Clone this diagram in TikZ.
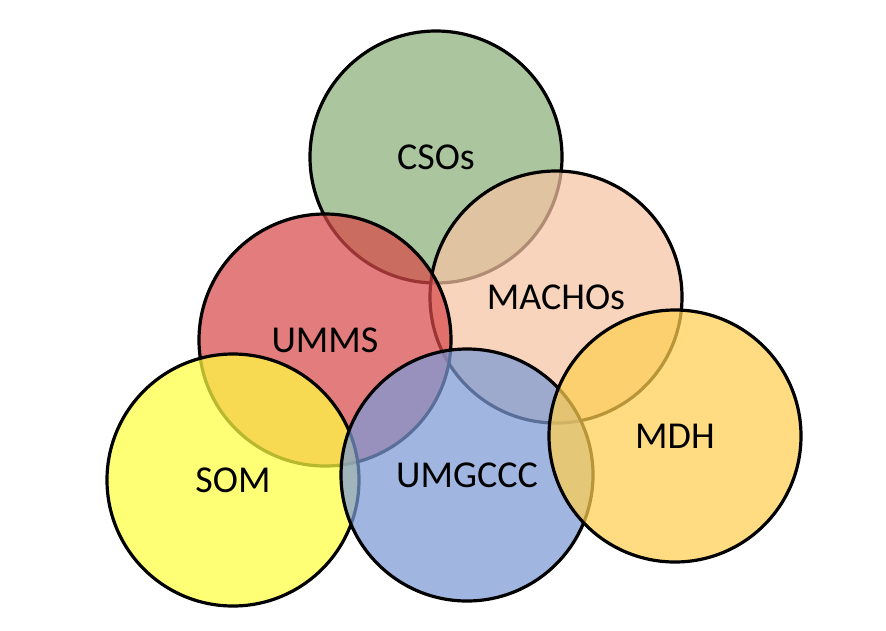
\documentclass[tikz,border=0pt]{standalone}
\usepackage{fontspec}
\setmainfont{Carlito}
\definecolor{csogreen}{HTML}{8AAE78}
\definecolor{machopeach}{HTML}{F5C3A3}
\definecolor{ummsred}{HTML}{D84A4A}
\definecolor{somyellow}{HTML}{FFFF40}
\definecolor{umblue}{HTML}{7C9AD6}
\definecolor{mdhgold}{HTML}{FFCF50}
\begin{document}
\begin{tikzpicture}[x=1pt,y=-1pt,
  org/.style={circle,draw=black,line width=3.2pt,minimum size=252pt,inner sep=0pt,
    fill opacity=0.72,text opacity=1,font=\fontsize{38}{44}\selectfont}]
  \useasboundingbox (0,0) rectangle (886,630);
  \node[org,fill=csogreen] (cso) at (436,157) {CSOs};
  \node[org,fill=machopeach] (macho) at (556,297) {MACHOs};
  \node[org,fill=ummsred] (umms) at (325,340) {UMMS};
  \node[org,fill=somyellow] (som) at (233,480) {SOM};
  \node[org,fill=umblue] (umg) at (467,475) {UMGCCC};
  \node[org,fill=mdhgold] (mdh) at (675,436) {MDH};
\end{tikzpicture}
\end{document}
